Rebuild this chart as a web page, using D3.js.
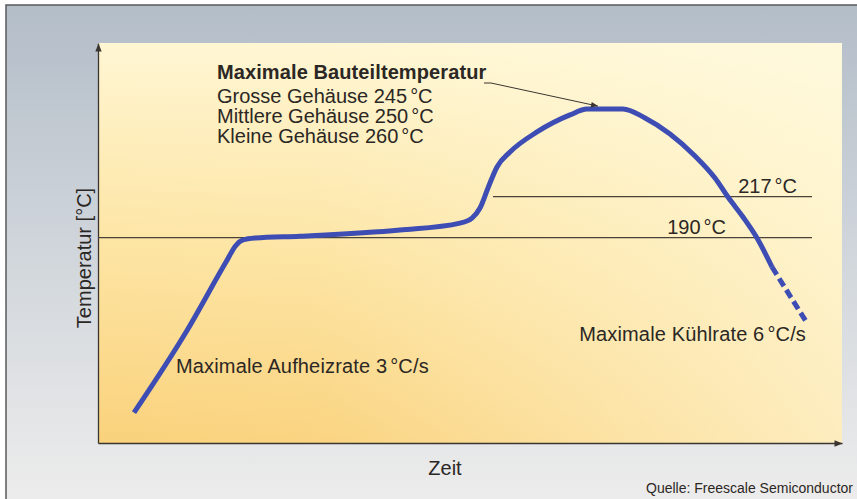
<!DOCTYPE html>
<html>
<head>
<meta charset="utf-8">
<script src="https://cdnjs.cloudflare.com/ajax/libs/d3/7.8.5/d3.min.js"></script>
<style>
  body { margin: 0; background: #fff; }
  svg { display: block; font-family: "Liberation Sans", Arial, sans-serif; }
</style>
</head>
<body>
<div id="graf"></div>
<script>
// I. Datos (Zeit in s, Temperatur in °C, aus dem Bild geschätzt)
zeit       = [18, 44.5, 64, 69, 72.5, 78.5, 101, 151, 181, 187, 191, 195, 199.5, 206, 219.5, 236, 244.5, 262.5, 273.5, 286, 298.5, 308.5, 315, 322.5, 329.5, 337]
temperatur = [75, 129, 174, 185, 188.5, 189.8, 191, 195, 199.6, 202.9, 209.5, 222.7, 236.5, 246.3, 259.5, 270.7, 274.6, 274.6, 268.7, 258.2, 243.7, 229.2, 216.7, 203.6, 189.8, 170.7]

// gestrichelter Teil (Abkühlung)
kuehlZeit = [337, 354.5]
kuehlTemp = [170.7, 133.9]

// Referenzlinien
linienTemp = [190, 217]
linienVon  = [0, 197.5]
linienBis  = [357, 357]
linienText = ['190°C', '217°C']

spitzeZeit = 250
spitzeTemp = 276.5

titel = 'Maximale Bauteiltemperatur'
gehaeuse = ['Grosse Gehäuse 245°C', 'Mittlere Gehäuse 250°C', 'Kleine Gehäuse 260°C']

// II. Configuración
ancho_total = 857
alto_total = 499
margins = { top: 43, left: 98, right: 15, bottom: 56 }

svg = d3.select('#graf').append('svg')
        .attr('width', ancho_total)
        .attr('height', alto_total)

defs = svg.append('defs')

gradGrau = defs.append('linearGradient').attr('id', 'grau')
        .attr('x1', 0).attr('y1', 0).attr('x2', 0).attr('y2', 1)
gradGrau.append('stop').attr('offset', '0%').attr('stop-color', '#b3bdc8')
gradGrau.append('stop').attr('offset', '45%').attr('stop-color', '#d3d8dd')
gradGrau.append('stop').attr('offset', '80%').attr('stop-color', '#ebebeb')
gradGrau.append('stop').attr('offset', '100%').attr('stop-color', '#f0f0ef')

gradGelb = defs.append('linearGradient').attr('id', 'gelb')
        .attr('x1', 0).attr('y1', 0).attr('x2', 0).attr('y2', 1)
gradGelb.append('stop').attr('offset', '0%').attr('stop-color', '#fff6d3')
gradGelb.append('stop').attr('offset', '50%').attr('stop-color', '#fde5a4')
gradGelb.append('stop').attr('offset', '100%').attr('stop-color', '#fad27c')

gradHell = defs.append('linearGradient').attr('id', 'hell')
        .attr('x1', 0).attr('y1', 0).attr('x2', 1).attr('y2', 0)
gradHell.append('stop').attr('offset', '0%').attr('stop-color', '#fffbe2').attr('stop-opacity', 0)
gradHell.append('stop').attr('offset', '30%').attr('stop-color', '#fffbe2').attr('stop-opacity', 0.05)
gradHell.append('stop').attr('offset', '100%').attr('stop-color', '#fffbe2').attr('stop-opacity', 0.65)

defs.append('marker').attr('id', 'pfeil')
    .attr('viewBox', '0 0 10 10').attr('refX', 10).attr('refY', 5)
    .attr('markerWidth', 10).attr('markerHeight', 8)
    .attr('markerUnits', 'userSpaceOnUse')
    .attr('orient', 'auto')
  .append('path').attr('d', 'M0,1 L10,5 L0,9 Z').attr('fill', '#3a3530')

defs.append('marker').attr('id', 'pfeilKlein')
    .attr('viewBox', '0 0 10 10').attr('refX', 10).attr('refY', 5)
    .attr('markerWidth', 9).attr('markerHeight', 7)
    .attr('markerUnits', 'userSpaceOnUse')
    .attr('orient', 'auto')
  .append('path').attr('d', 'M0,1 L10,5 L0,9 Z').attr('fill', '#3a3530')

// Hintergrund
svg.append('rect')
   .attr('x', 6).attr('y', 5)
   .attr('width', 900).attr('height', 600)
   .attr('fill', 'url(#grau)')
   .attr('stroke', '#5a5a5a').attr('stroke-width', 1.5)

// Skalen
x = d3.scaleLinear().domain([0, 372]).range([margins.left, ancho_total - margins.right])
y = d3.scaleLinear().domain([55, 318]).range([alto_total - margins.bottom, margins.top])

x0 = x.range()[0], x1 = x.range()[1]
y0 = y.range()[0], y1 = y.range()[1]

svg.append('rect')
   .attr('x', x0).attr('y', y1)
   .attr('width', x1 - x0).attr('height', y0 - y1)
   .attr('fill', 'url(#gelb)')
svg.append('rect')
   .attr('x', x0).attr('y', y1)
   .attr('width', x1 - x0).attr('height', y0 - y1)
   .attr('fill', 'url(#hell)')

// Achsen
xAxis = svg.append('g')
   .attr('transform', `translate(0, ${ y0 })`)
   .call(d3.axisBottom(x).tickValues([]).tickSizeOuter(0))
xAxis.select('.domain').attr('stroke', '#3a3530').attr('stroke-width', 1.3)
   .attr('marker-end', 'url(#pfeil)')

yAxis = svg.append('g')
   .attr('transform', `translate(${ x0 }, 0)`)
   .call(d3.axisLeft(y).tickValues([]).tickSizeOuter(0))
yAxis.select('.domain').attr('stroke', '#3a3530').attr('stroke-width', 1.3)
   .attr('marker-end', 'url(#pfeil)')

// Referenzlinien
svg.selectAll('line.ref')
   .data(linienTemp)
   .enter().append('line')
   .attr('class', 'ref')
   .attr('x1', (d, i) => x(linienVon[i]))
   .attr('x2', (d, i) => x(linienBis[i]))
   .attr('y1', d => y(d))
   .attr('y2', d => y(d))
   .attr('stroke', '#4a4238').attr('stroke-width', 1.3)

textFarbe = '#2b2724'
fs = '20px'

// Text mit etwas Abstand vor dem Gradzeichen
function gradText(sel, str) {
  teile = str.split('°')
  sel.append('tspan').text(teile[0])
  if (teile.length > 1) {
    sel.append('tspan').attr('dx', 3).text('°' + teile[1])
  }
}

svg.selectAll('text.ref')
   .data(linienTemp)
   .enter().append('text')
   .attr('class', 'ref')
   .attr('x', (d, i) => i === 0 ? 726 : 797)
   .attr('y', d => y(d) - 4)
   .attr('text-anchor', 'end')
   .attr('fill', textFarbe).style('font-size', fs)
   .each(function(d, i) { gradText(d3.select(this), linienText[i]) })

// Kurve
linie = d3.line()
   .x(d => x(d[0]))
   .y(d => y(d[1]))
   .curve(d3.curveMonotoneX)

profil = zeit.map((t, i) => [t, temperatur[i]])
kuehl = kuehlZeit.map((t, i) => [t, kuehlTemp[i]])

blau = '#3d4db3'

svg.append('path')
   .datum(kuehl)
   .attr('d', linie)
   .attr('fill', 'none')
   .attr('stroke', blau).attr('stroke-width', 5)
   .attr('stroke-dasharray', '9,4.5')

svg.append('path')
   .datum(profil)
   .attr('d', linie)
   .attr('fill', 'none')
   .attr('stroke', blau).attr('stroke-width', 5)
   .attr('stroke-linejoin', 'round')

// Beschriftung Maximaltemperatur
svg.append('text')
   .attr('x', 217).attr('y', 79)
   .attr('fill', textFarbe).style('font-size', fs).style('font-weight', 'bold')
   .style('letter-spacing', '0.1px')
   .text(titel)

svg.selectAll('text.geh')
   .data(gehaeuse)
   .enter().append('text')
   .attr('class', 'geh')
   .attr('x', 217)
   .attr('y', (d, i) => 103 + i * 20)
   .attr('fill', textFarbe).style('font-size', fs)
   .each(function(d) { gradText(d3.select(this), d) })

svg.append('path')
   .attr('d', `M484,83 L491,83 L${ x(spitzeZeit) },${ y(spitzeTemp) }`)
   .attr('fill', 'none')
   .attr('stroke', '#3a3530').attr('stroke-width', 1)
   .attr('marker-end', 'url(#pfeilKlein)')

svg.append('text')
   .attr('x', 176).attr('y', 373)
   .attr('fill', textFarbe).style('font-size', fs)
   .style('letter-spacing', '0.15px')
   .call(s => gradText(s, 'Maximale Aufheizrate 3°C/s'))

svg.append('text')
   .attr('x', 806).attr('y', 341)
   .attr('text-anchor', 'end')
   .attr('fill', textFarbe).style('font-size', fs)
   .style('letter-spacing', '0.15px')
   .call(s => gradText(s, 'Maximale Kühlrate 6°C/s'))

// Achsentitel
svg.append('text')
   .attr('transform', 'translate(91, 258) rotate(-90)')
   .attr('text-anchor', 'middle')
   .attr('fill', textFarbe).style('font-size', '20px')
   .text('Temperatur [°C]')

svg.append('text')
   .attr('x', 445).attr('y', 475)
   .attr('text-anchor', 'middle')
   .attr('fill', textFarbe).style('font-size', '20px')
   .text('Zeit')

svg.append('text')
   .attr('x', 853).attr('y', 493)
   .attr('text-anchor', 'end')
   .attr('fill', textFarbe).style('font-size', '14px')
   .text('Quelle: Freescale Semiconductor')
</script>
</body>
</html>
